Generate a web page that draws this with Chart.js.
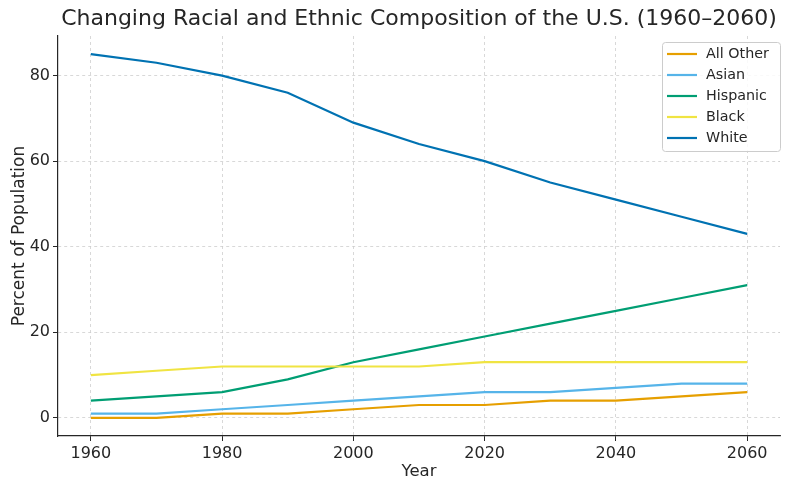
<!DOCTYPE html>
<html>
<head>
<meta charset="utf-8">
<script src="https://cdn.jsdelivr.net/npm/chart.js@4"></script>
<style>
html,body{margin:0;padding:0;background:#fff;}
canvas{display:block;}
</style>
</head>
<body>
<canvas id="c" width="790" height="490"></canvas>
<script>
const years = [1960, 1970, 1980, 1990, 2000, 2010, 2020, 2030, 2040, 2050, 2060];
const allOther = [0, 0, 1, 1, 2, 3, 3, 4, 4, 5, 6];
const asian = [1, 1, 2, 3, 4, 5, 6, 6, 7, 8, 8];
const hispanic = [4, 5, 6, 9, 13, 16, 19, 22, 25, 28, 31];
const black = [10, 11, 12, 12, 12, 12, 13, 13, 13, 13, 13];
const white = [85, 83, 80, 76, 69, 64, 60, 55, 51, 47, 43];
const seriesNames = ['All Other', 'Asian', 'Hispanic', 'Black', 'White'];
const seriesColors = ['#E69F00', '#56B4E9', '#009E73', '#F0E442', '#0072B2'];
const seriesValues = [allOther, asian, hispanic, black, white];
const titleText = 'Changing Racial and Ethnic Composition of the U.S. (1960–2060)';

const FONT = "'DejaVu Sans', sans-serif";

const datasets = seriesNames.map((name, i) => ({
  label: name,
  data: years.map((y, j) => ({x: y, y: seriesValues[i][j]})),
  borderColor: seriesColors[i],
  backgroundColor: seriesColors[i],
  borderWidth: 2.2,
  pointRadius: 0,
  tension: 0,
  fill: false,
  order: seriesNames.length - i
}));

const titlePlugin = {
  id: 'mplTitle',
  afterDraw(chart) {
    const ctx = chart.ctx, a = chart.chartArea;
    ctx.save();
    ctx.font = '22px ' + FONT;
    ctx.fillStyle = '#262626';
    ctx.textAlign = 'center';
    ctx.textBaseline = 'middle';
    ctx.fillText(titleText, (a.left + a.right) / 2, 19);
    ctx.restore();
  }
};

const legendPlugin = {
  id: 'mplLegend',
  afterDatasetsDraw(chart) {
    const ctx = chart.ctx, a = chart.chartArea;
    const w = 118, h = 109;
    const x = a.right - w, y = a.top + 6;
    ctx.save();
    ctx.fillStyle = 'rgba(255,255,255,0.85)';
    ctx.strokeStyle = '#cccccc';
    ctx.lineWidth = 1;
    ctx.beginPath();
    ctx.roundRect(x + 0.5, y + 0.5, w, h, 3);
    ctx.fill();
    ctx.stroke();
    ctx.font = '14.3px ' + FONT;
    ctx.textBaseline = 'middle';
    ctx.textAlign = 'left';
    chart.data.datasets.forEach((ds, i) => {
      const ry = y + 12 + i * 21;
      ctx.strokeStyle = ds.borderColor;
      ctx.lineWidth = 2.2;
      ctx.beginPath();
      ctx.moveTo(x + 5, ry);
      ctx.lineTo(x + 35, ry);
      ctx.stroke();
      ctx.fillStyle = '#262626';
      ctx.fillText(ds.label, x + 44, ry);
    });
    ctx.restore();
  }
};

new Chart(document.getElementById('c'), {
  type: 'line',
  data: { datasets },
  plugins: [titlePlugin, legendPlugin],
  options: {
    responsive: false,
    animation: false,
    devicePixelRatio: 1,
    layout: { padding: { top: 36, right: 10, left: 9, bottom: 8 } },
    plugins: { legend: { display: false }, tooltip: { enabled: false }, title: { display: false } },
    scales: {
      x: {
        type: 'linear',
        min: 1955,
        max: 2065,
        afterBuildTicks(scale) {
          scale.ticks = [1960, 1980, 2000, 2020, 2040, 2060].map(v => ({value: v}));
        },
        afterFit(scale) { scale.height = 46; },
        ticks: {
          font: { family: FONT, size: 16 },
          color: '#262626',
          padding: 3,
          maxRotation: 0,
          callback: v => String(v)
        },
        grid: {
          color: '#cfcfcf',
          lineWidth: 0.8,
          tickLength: 5,
          tickColor: '#262626',
          tickWidth: 1
        },
        border: { display: true, color: '#262626', width: 1.2, dash: [3, 3] },
        title: { display: true, text: 'Year', font: { family: FONT, size: 16.5 }, color: '#262626', padding: { top: 2, bottom: 0 } }
      },
      y: {
        type: 'linear',
        min: -4.25,
        max: 89.25,
        afterBuildTicks(scale) {
          scale.ticks = [0, 20, 40, 60, 80].map(v => ({value: v}));
        },
        afterFit(scale) { scale.width = 49; },
        ticks: {
          font: { family: FONT, size: 16 },
          color: '#262626',
          padding: 3,
          callback: v => String(v)
        },
        grid: {
          color: '#cfcfcf',
          lineWidth: 0.8,
          tickLength: 5,
          tickColor: '#262626',
          tickWidth: 1
        },
        border: { display: true, color: '#262626', width: 1.2, dash: [3, 3] },
        title: { display: true, text: 'Percent of Population', font: { family: FONT, size: 17 }, color: '#262626', padding: { top: 0, bottom: 4 } }
      }
    }
  }
});
</script>
</body>
</html>
